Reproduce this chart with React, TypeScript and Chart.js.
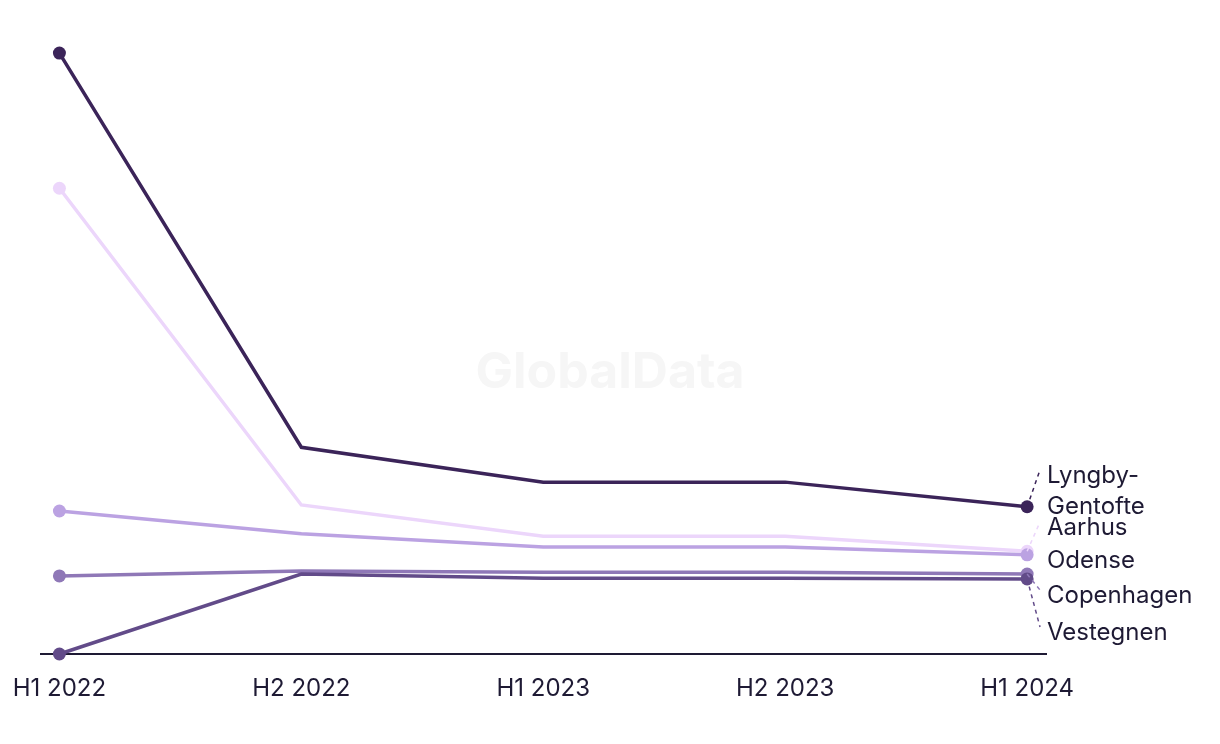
import React, { useEffect, useRef } from "react";
import { Chart, registerables } from "chart.js";

Chart.register(...registerables);

const categories = ["H1 2022", "H2 2022", "H1 2023", "H2 2023", "H1 2024"];
const seriesNames = ["Lyngby-Gentofte", "Aarhus", "Odense", "Copenhagen", "Vestegnen"];
const lyngbyGentofte = [100, 34.4, 28.6, 28.6, 24.5];
const aarhus = [77.5, 24.8, 19.6, 19.6, 17.1];
const odense = [23.8, 20.0, 17.8, 17.8, 16.5];
const copenhagen = [13.0, 13.8, 13.6, 13.6, 13.3];
const vestegnen = [0, 13.3, 12.6, 12.6, 12.5];
const seriesValues = [lyngbyGentofte, aarhus, odense, copenhagen, vestegnen];
const colors = ["#3b2459", "#ecd6fb", "#bba2e2", "#8f78b7", "#624b89"];
const labelLines = [["Lyngby-", "Gentofte"], ["Aarhus"], ["Odense"], ["Copenhagen"], ["Vestegnen"]];
const labelY = [476, 528, 561, 596, 633];

const FONT = "Inter, 'Noto Sans', sans-serif";
const TEXT = "#1e1a34";

const labelPlugin = {
  id: "endLabels",
  afterDatasetsDraw(chart: any) {
    const ctx = chart.ctx;
    ctx.save();
    ctx.font = `24px ${FONT}`;
    ctx.textBaseline = "middle";
    ctx.textAlign = "left";
    const tx = 1047;
    chart.data.datasets.forEach((ds: any, di: number) => {
      const i = seriesNames.indexOf(ds.label);
      const meta = chart.getDatasetMeta(di);
      const pt = meta.data[meta.data.length - 1];
      const lines = labelLines[i];
      const firstY = labelY[i];
      if (Math.abs(firstY - pt.y) > 8) {
        ctx.beginPath();
        ctx.setLineDash([4, 4]);
        ctx.lineWidth = 1.5;
        ctx.strokeStyle = colors[i];
        ctx.moveTo(pt.x, pt.y);
        const ty = lines.length > 1 ? firstY - 6 : firstY > pt.y ? firstY - 6 : firstY - 6;
        ctx.lineTo(tx - 7, ty);
        ctx.stroke();
        ctx.setLineDash([]);
      }
    });
    ctx.fillStyle = TEXT;
    labelLines.forEach((lines, i) => {
      lines.forEach((l, j) => ctx.fillText(l, tx, labelY[i] + j * 31));
    });
    ctx.restore();
  },
};

const watermarkPlugin = {
  id: "watermark",
  beforeDatasetsDraw(chart: any) {
    const ctx = chart.ctx;
    ctx.save();
    ctx.font = `bold 50px ${FONT}`;
    ctx.fillStyle = "#f6f6f6";
    ctx.textAlign = "center";
    ctx.textBaseline = "middle";
    ctx.fillText("GlobalData", 610, 373);
    ctx.restore();
  },
};

export default function App() {
  const ref = useRef<HTMLCanvasElement>(null);
  useEffect(() => {
    const canvas = ref.current!;
    const chart = new Chart(canvas, {
      type: "line",
      data: {
        datasets: seriesValues
          .map((vals, i) => ({
            label: seriesNames[i],
            data: vals.map((v, k) => ({ x: k, y: v })),
            borderColor: colors[i],
            backgroundColor: colors[i],
            pointBackgroundColor: colors[i],
            pointBorderColor: colors[i],
            borderWidth: 3.5,
            pointRadius: vals.map((_, k) => (k === 0 || k === vals.length - 1 ? 6.5 : 0)),
            pointBorderWidth: 0,
            pointHoverRadius: 0,
            tension: 0,
            clip: false as any,
          }))
          .reverse(),
      },
      options: {
        responsive: false,
        animation: false,
        events: [],
        layout: { padding: { left: 38, right: 174, top: 20, bottom: 0 } },
        plugins: { legend: { display: false }, tooltip: { enabled: false } },
        scales: {
          x: {
            type: "linear",
            min: -0.078,
            max: 4.078,
            grid: { display: false },
            border: { display: true, color: TEXT, width: 2 },
            afterBuildTicks: (s: any) => {
              s.ticks = categories.map((_, i) => ({ value: i }));
            },
            afterFit: (s: any) => {
              s.height = 90;
            },
            ticks: {
              autoSkip: false,
              maxRotation: 0,
              padding: 12,
              color: TEXT,
              font: { family: FONT, size: 24 },
              callback: (v: any) => categories[v as number] ?? "",
            },
          },
          y: {
            display: false,
            min: 0,
            max: 105.5,
          },
        },
      },
      plugins: [watermarkPlugin, labelPlugin],
    });
    return () => chart.destroy();
  }, []);
  return (
    <div style={{ position: "fixed", left: 0, top: 0, width: 1220, height: 744, background: "#fff" }}>
      <canvas ref={ref} width={1220} height={744} style={{ width: 1220, height: 744 }} />
    </div>
  );
}
